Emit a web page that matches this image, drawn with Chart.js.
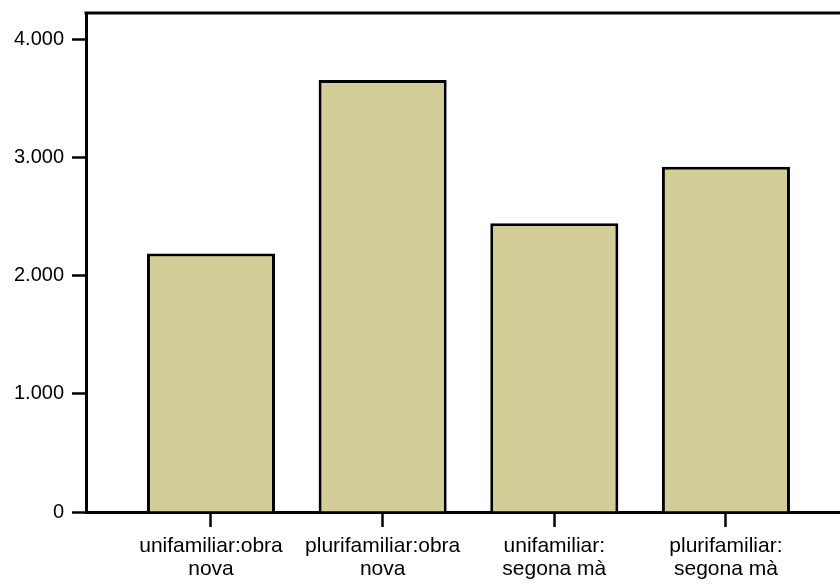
<!DOCTYPE html>
<html>
<head>
<meta charset="utf-8">
<script src="https://cdn.jsdelivr.net/npm/chart.js@4"></script>
<style>
  html, body { margin: 0; padding: 0; background: #fff; }
  #wrap { width: 840px; height: 584px; overflow: hidden; position: relative; }
  #grafico { display: block; }
</style>
</head>
<body>
<div id="wrap"><canvas id="grafico" width="900" height="584"></canvas></div>
<script>
// categories (multi-line labels) and values
const categorias = [
  ['unifamiliar:obra', 'nova'],
  ['plurifamiliar:obra', 'nova'],
  ['unifamiliar:', 'segona mà'],
  ['plurifamiliar:', 'segona mà']
];
const valors = [2186, 3653, 2441, 2920];
const ticksY = [0, 1000, 2000, 3000, 4000];

const posicions = categorias.map((c, i) => i + 1);

// top frame line of the plot area
const vora = {
  id: 'vora',
  afterDraw(chart) {
    const a = chart.chartArea, c = chart.ctx;
    c.save();
    c.strokeStyle = '#000';
    c.lineWidth = 3;
    c.beginPath();
    c.moveTo(a.left - 1.5, a.top);
    c.lineTo(a.right, a.top);
    c.stroke();
    c.restore();
  }
};

const fmt = v => v === 0 ? '0' : v.toLocaleString('de-DE');

new Chart(document.getElementById('grafico'), {
  type: 'bar',
  data: {
    datasets: [{
      data: posicions.map((x, i) => ({ x: x, y: valors[i] })),
      backgroundColor: '#d3ce98',
      borderColor: '#000',
      borderWidth: 3,
      borderSkipped: 'bottom',
      categoryPercentage: 1,
      barPercentage: 0.746
    }]
  },
  plugins: [vora],
  options: {
    responsive: false,
    animation: false,
    devicePixelRatio: 1,
    layout: { padding: { top: 13, right: 0, left: 0, bottom: 0 } },
    plugins: { legend: { display: false }, tooltip: { enabled: false } },
    scales: {
      x: {
        type: 'linear',
        offset: false,
        min: 0.2718,
        max: 5.014,
        afterBuildTicks: s => { s.ticks = posicions.map(v => ({ value: v })); },
        afterFit: s => { s.height = 72; s.paddingLeft = 0; s.paddingRight = 0; },
        border: { display: true, color: '#000', width: 3 },
        grid: { offset: false, drawOnChartArea: false, drawTicks: true, tickLength: 15, tickWidth: 2.5, tickColor: '#000' },
        ticks: {
          autoSkip: false,
          maxRotation: 0,
          padding: 8,
          color: '#000',
          font: { family: 'Liberation Sans', size: 21, lineHeight: 1.1 },
          callback: v => categorias[v - 1]
        }
      },
      y: {
        min: 0,
        max: 4220,
        afterBuildTicks: s => { s.ticks = ticksY.map(v => ({ value: v })); },
        afterFit: s => { s.width = 86; s.paddingTop = 0; s.paddingBottom = 0; },
        border: { display: true, color: '#000', width: 3 },
        grid: { drawOnChartArea: false, drawTicks: true, tickLength: 14, tickWidth: 2.5, tickColor: '#000' },
        ticks: {
          padding: 8,
          color: '#000',
          font: { family: 'Liberation Sans', size: 20 },
          callback: v => fmt(v)
        }
      }
    }
  }
});
</script>
</body>
</html>
